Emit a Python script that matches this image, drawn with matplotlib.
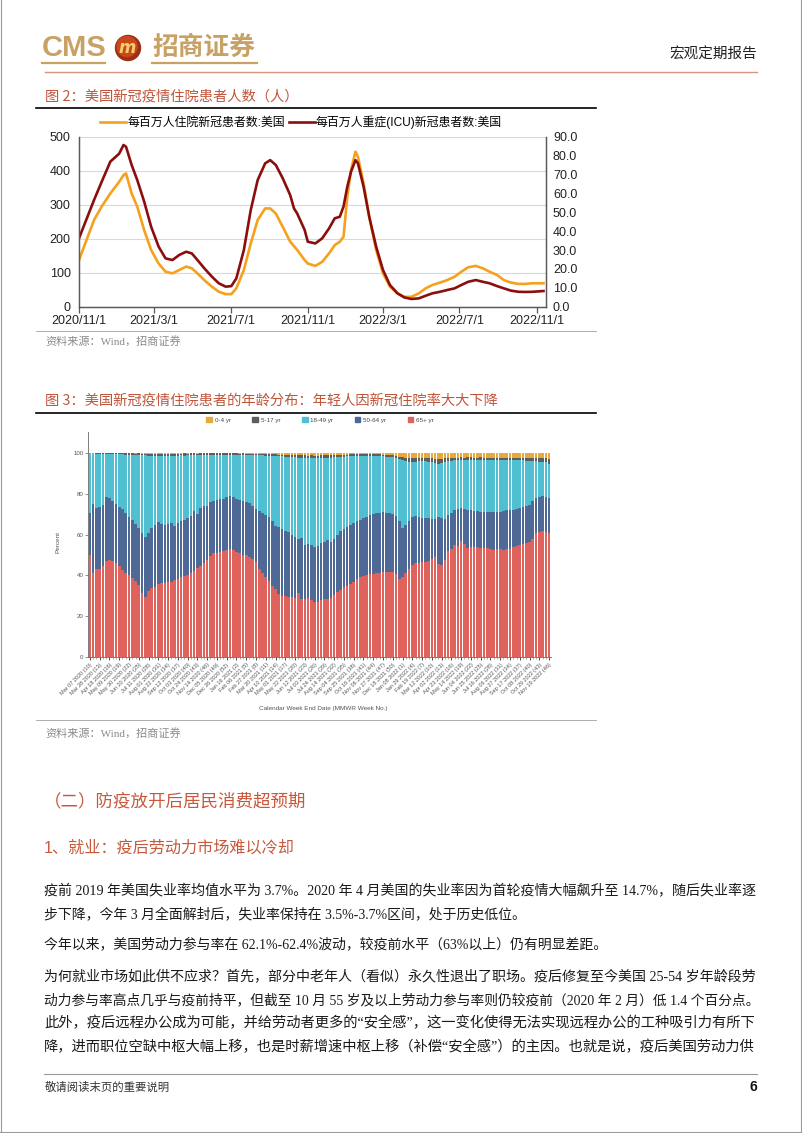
import matplotlib
matplotlib.use("Agg")
import matplotlib.pyplot as plt
from matplotlib.patches import Circle, Patch
import numpy as np
import pandas as pd

W, H = 802, 1133
CJK = "Noto Sans CJK SC"
SERIF_MIX = ["Liberation Serif", CJK]
SANS_MIX = ["Liberation Sans", CJK]
plt.rcParams["font.family"] = [CJK, "DejaVu Sans"]

# ---------------- Figure 2 data: hospitalised COVID patients per million (US) ----------------
hosp_dates = ["2020-11-01", "2020-11-25", "2020-12-07", "2020-12-21", "2021-01-04", "2021-01-11",
              "2021-01-15", "2021-01-24", "2021-02-02", "2021-02-13", "2021-02-24", "2021-03-08",
              "2021-03-19", "2021-03-30", "2021-04-10", "2021-04-21", "2021-04-30", "2021-05-09",
              "2021-05-20", "2021-06-01", "2021-06-12", "2021-06-23", "2021-07-02", "2021-07-10",
              "2021-07-22", "2021-08-02", "2021-08-13", "2021-08-25", "2021-09-02", "2021-09-11",
              "2021-09-22", "2021-10-04", "2021-10-10", "2021-10-15", "2021-10-27", "2021-11-01",
              "2021-11-13", "2021-11-24", "2021-12-05", "2021-12-14", "2021-12-22", "2021-12-28",
              "2022-01-03", "2022-01-09", "2022-01-16", "2022-01-20", "2022-01-29", "2022-02-07",
              "2022-02-18", "2022-03-01", "2022-03-12", "2022-03-24", "2022-04-04", "2022-04-15",
              "2022-04-27", "2022-05-08", "2022-05-19", "2022-05-31", "2022-06-11", "2022-06-23",
              "2022-07-04", "2022-07-15", "2022-07-27", "2022-08-07", "2022-08-18", "2022-08-30",
              "2022-09-10", "2022-09-21", "2022-10-03", "2022-10-14", "2022-10-26", "2022-11-12"]
hosp_per_million = [137, 255, 294, 333, 367, 387, 392, 333, 294, 225,
                    167, 127, 103, 98, 108, 118, 113, 98, 78, 59,
                    44, 37, 37, 54, 108, 186, 255, 289, 289, 274,
                    235, 191, 178, 167, 137, 127, 120, 132, 157, 181,
                    191, 206, 323, 402, 456, 441, 363, 265, 167, 98,
                    59, 39, 29, 29, 39, 54, 64, 71, 78, 88,
                    103, 116, 120, 113, 103, 93, 78, 71, 67, 67,
                    69, 69]
icu_per_million = [36.2, 56.5, 66, 76.8, 81, 85.6, 84.7, 75, 67, 55.6,
                   42.4, 31.8, 25.6, 24.7, 27.4, 29.1, 28.2, 24.7, 20.3, 15.9,
                   12.4, 10.6, 10.9, 15, 30, 51.2, 67, 75.9, 77.6, 75,
                   68, 59, 52, 49.4, 40.6, 34.4, 33.5, 36.2, 41.5, 46.8,
                   47.6, 53, 63.5, 71.5, 77.6, 75.9, 63.5, 47.6, 31.8, 19.4,
                   11.5, 7.1, 4.9, 4.1, 4.4, 5.8, 7.1, 7.9, 8.8, 9.7,
                   11.5, 13.2, 14.1, 13.2, 12.4, 10.9, 9.7, 8.5, 7.9, 7.8,
                   7.9, 8.3]
fig2_xtick_labels = ["2020/11/1", "2021/3/1", "2021/7/1", "2021/11/1", "2022/3/1", "2022/7/1", "2022/11/1"]
fig2_series_names = ["每百万人住院新冠患者数:美国", "每百万人重症(ICU)新冠患者数:美国"]

# ---------------- Figure 3 data: age distribution of hospitalised patients (%), weekly ----------------
# cumulative shares: patients aged >=65, >=50, >=18, >=5 (remainder is 0-4 yr)
share_65plus = [50, 41, 43, 43, 44.5, 47, 47.5, 47, 46, 44.5,
                42.5, 41, 40, 38.7, 37.3, 35.5, 31.5, 29.6, 32.5, 34,
                34.5, 35.8, 36.5, 36.4, 36.8, 37, 37.8, 38.4, 39, 39.8,
                40.3, 41, 42.3, 43.7, 44.5, 45.9, 47.5, 49.5, 50.8, 51.2,
                51.5, 51.8, 52.5, 53, 52.5, 51.5, 50.8, 50.2, 50, 49.2,
                48, 46.5, 43, 41, 39.4, 37.5, 35, 33.5, 31, 30,
                29.8, 29.3, 29.5, 29, 31.3, 28.5, 28.3, 28.8, 28, 26.8,
                27, 28.2, 28.5, 28.5, 29, 30.5, 32, 33, 34.2, 35,
                36, 37, 38.3, 39.2, 39.8, 40.3, 40.5, 40.8, 41, 41.2,
                41.5, 41.7, 41.6, 41.8, 40.5, 38.2, 39, 41, 43, 45,
                46, 46.3, 46.6, 46.7, 47.2, 47.8, 49, 45.5, 45.3, 47.5,
                52, 53, 55, 54.3, 56.8, 55.5, 53.6, 54, 53.8, 53.7,
                53.6, 53.4, 53.2, 52.8, 52.6, 52.8, 52.7, 52.5, 53, 53,
                53.8, 54.6, 55, 55.3, 56, 56.3, 58, 60.6, 61, 61.7,
                61.2, 60.5]
share_50plus = [70.5, 75, 73, 73.3, 74.4, 78.1, 77.9, 76.3, 75, 73.6,
                72.4, 70.6, 68.7, 67, 65.1, 63.2, 60.8, 58.8, 60.7, 63,
                64.8, 66.1, 65.1, 64.5, 65, 65.4, 64.1, 65.7, 66.7, 67,
                68, 68.9, 71.4, 70, 73, 74, 73.8, 75.8, 76.6, 76.9,
                77.2, 77.5, 78.2, 78.7, 78.5, 77.6, 77, 76.5, 76, 75.2,
                73.8, 72.3, 71.6, 70.6, 69.5, 68.5, 66.5, 64.4, 63.6, 62.8,
                61.8, 61, 59.8, 58.6, 57.8, 58.3, 55, 55.4, 54.9, 54,
                54.6, 55.7, 56.5, 57.5, 56.5, 58, 60, 61.5, 62.5, 63.8,
                64.7, 65.8, 66.6, 67.3, 68, 68.7, 69.3, 69.8, 70.3, 70.7,
                70.9, 70.5, 70.6, 70.2, 69, 66.5, 63, 64.8, 66.8, 68.4,
                68.9, 68.6, 68.3, 68, 68.2, 67.5, 67.5, 68.5, 68, 67.6,
                69.5, 70.6, 72, 72.3, 73.2, 72.6, 72.2, 71.8, 71.5, 71.3,
                71.2, 71.1, 70.9, 70.8, 70.9, 71, 71.2, 71.3, 71.8, 72,
                72.2, 72.6, 73, 73.5, 74, 74.6, 76.5, 77.8, 78.3, 78.6,
                78.3, 78]
share_18plus = [99.6, 99.6, 99.5, 99.5, 99.4, 99.5, 99.4, 99.3, 99.3, 99.2,
                99.2, 99.1, 99.0, 99.0, 98.9, 98.8, 98.8, 98.7, 98.6, 98.6,
                98.5, 98.5, 98.4, 98.5, 98.4, 98.6, 98.5, 98.6, 98.7, 98.6,
                98.8, 98.7, 98.8, 98.9, 98.8, 98.9, 99.0, 99.0, 99.1, 99.0,
                99.1, 99.0, 99.1, 99.0, 98.9, 99.0, 98.9, 98.9, 98.8, 98.9,
                98.8, 98.7, 98.8, 98.7, 98.6, 98.6, 98.5, 98.4, 98.3, 98.2,
                98.0, 97.9, 97.8, 97.7, 97.6, 97.5, 97.4, 97.3, 97.4, 97.3,
                97.2, 97.3, 97.4, 97.5, 97.6, 97.8, 97.9, 98.0, 98.1, 98.2,
                98.3, 98.3, 98.4, 98.4, 98.4, 98.5, 98.4, 98.4, 98.3, 98.3,
                98.2, 98.1, 98.0, 97.8, 97.5, 97.0, 96.3, 95.8, 95.5, 95.4,
                95.6, 95.8, 96.0, 95.8, 95.5, 95.2, 94.8, 94.6, 95.0, 95.4,
                95.7, 96.0, 96.2, 96.3, 96.4, 96.5, 96.4, 96.5, 96.6, 96.5,
                96.4, 96.5, 96.6, 96.5, 96.4, 96.3, 96.4, 96.5, 96.3, 96.2,
                96.3, 96.4, 96.3, 96.2, 96.1, 96.0, 95.9, 95.8, 95.6, 95.5,
                95.2, 94.6]
share_5plus = [99.8, 99.8, 99.8, 99.7, 99.8, 99.7, 99.7, 99.7, 99.6, 99.7,
               99.6, 99.6, 99.6, 99.6, 99.5, 99.6, 99.5, 99.5, 99.5, 99.5,
               99.4, 99.5, 99.4, 99.4, 99.5, 99.4, 99.5, 99.5, 99.5, 99.6,
               99.5, 99.6, 99.6, 99.5, 99.6, 99.6, 99.6, 99.6, 99.7, 99.6,
               99.7, 99.6, 99.7, 99.6, 99.6, 99.6, 99.5, 99.6, 99.5, 99.5,
               99.5, 99.4, 99.4, 99.4, 99.3, 99.3, 99.2, 99.2, 99.1, 99.1,
               99.0, 98.9, 98.9, 98.8, 98.8, 98.7, 98.7, 98.6, 98.7, 98.6,
               98.6, 98.7, 98.7, 98.8, 98.8, 98.9, 99.0, 99.0, 99.1, 99.1,
               99.2, 99.2, 99.3, 99.3, 99.3, 99.3, 99.3, 99.2, 99.2, 99.2,
               99.1, 99.0, 98.9, 98.7, 98.4, 98.1, 97.8, 97.5, 97.3, 97.2,
               97.3, 97.4, 97.5, 97.4, 97.3, 97.2, 97.0, 96.9, 97.1, 97.3,
               97.4, 97.5, 97.6, 97.6, 97.7, 97.6, 97.7, 97.7, 97.6, 97.6,
               97.7, 97.6, 97.5, 97.6, 97.6, 97.5, 97.5, 97.6, 97.5, 97.5,
               97.4, 97.5, 97.4, 97.4, 97.3, 97.3, 97.3, 97.2, 97.2, 97.3,
               97.2, 97.1]
age_groups = ["0-4 yr", "5-17 yr", "18-49 yr", "50-64 yr", "65+ yr"]
week_labels = ["Mar 07 2020 (10)", "Mar 28 2020 (13)", "Apr 18 2020 (16)", "May 09 2020 (19)",
               "May 30 2020 (22)", "Jun 20 2020 (25)", "Jul 11 2020 (28)", "Aug 01 2020 (31)",
               "Aug 22 2020 (34)", "Sep 12 2020 (37)", "Oct 03 2020 (40)", "Oct 24 2020 (43)",
               "Nov 14 2020 (46)", "Dec 05 2020 (49)", "Dec 26 2020 (52)", "Jan 16 2021 (2)",
               "Feb 06 2021 (5)", "Feb 27 2021 (8)", "Mar 20 2021 (11)", "Apr 10 2021 (14)",
               "May 01 2021 (17)", "May 22 2021 (20)", "Jun 12 2021 (23)", "Jul 03 2021 (26)",
               "Jul 24 2021 (29)", "Aug 14 2021 (32)", "Sep 04 2021 (35)", "Sep 25 2021 (38)",
               "Oct 16 2021 (41)", "Nov 06 2021 (44)", "Nov 27 2021 (47)", "Dec 18 2021 (50)",
               "Jan 08 2022 (1)", "Jan 29 2022 (4)", "Feb 19 2022 (7)", "Mar 12 2022 (10)",
               "Apr 02 2022 (13)", "Apr 23 2022 (16)", "May 14 2022 (19)", "Jun 04 2022 (22)",
               "Jun 25 2022 (25)", "Jul 16 2022 (28)", "Aug 06 2022 (31)", "Aug 27 2022 (34)",
               "Sep 17 2022 (37)", "Oct 08 2022 (40)", "Oct 29 2022 (43)", "Nov 19 2022 (46)"]

# ---------------- page text ----------------
body_lines = [
    ("疫前 2019 年美国失业率均值水平为 3.7%。2020 年 4 月美国的失业率因为首轮疫情大幅飙升至 14.7%，随后失业率逐", 891, True),
    ("步下降，今年 3 月全面解封后，失业率保持在 3.5%-3.7%区间，处于历史低位。", 914, False),
    ("今年以来，美国劳动力参与率在 62.1%-62.4%波动，较疫前水平（63%以上）仍有明显差距。", 944, False),
    ("为何就业市场如此供不应求？首先，部分中老年人（看似）永久性退出了职场。疫后修复至今美国 25-54 岁年龄段劳", 977, True),
    ("动力参与率高点几乎与疫前持平，但截至 10 月 55 岁及以上劳动力参与率则仍较疫前（2020 年 2 月）低 1.4 个百分点。", 1000, True),
    ("此外，疫后远程办公成为可能，并给劳动者更多的“安全感”，这一变化使得无法实现远程办公的工种吸引力有所下", 1023, True),
    ("降，进而职位空缺中枢大幅上移，也是时薪增速中枢上移（补偿“安全感”）的主因。也就是说，疫后美国劳动力供", 1047, True),
]

# ---------------- figure ----------------
fig = plt.figure(figsize=(W / 100, H / 100), dpi=100)
fig.patch.set_facecolor("white")


def box(x0, y0, x1, y1):
    return [x0 / W, 1 - y1 / H, (x1 - x0) / W, (y1 - y0) / H]


page = fig.add_axes([0, 0, 1, 1], zorder=-1)
page.set_xlim(0, W)
page.set_ylim(H, 0)
page.axis("off")

GOLD = "#C9A165"
TITLE_C = "#C0553A"
GRAY_T = "#8A8A8A"

# page border
page.plot([0.6, 0.6], [0, 1131.5], color="#9A9A9A", lw=0.8)
page.plot([801.4, 801.4], [0, 1131.5], color="#9A9A9A", lw=0.8)
page.plot([0, W], [1131.5, 1131.5], color="#9A9A9A", lw=0.8)

# header / logo
page.text(42, 48, "CMS", fontsize=21, color=GOLD, family=["Liberation Sans Narrow", "Liberation Sans"],
          weight="bold", va="center", ha="left")
page.add_patch(Circle((128, 48), 12.5, color="#9E2E14"))
page.add_patch(Circle((127, 46.5), 10, color="#C9481E"))
page.text(127.5, 48, "m", fontsize=12, color="#F3CE6A", weight="bold", style="italic",
          family="DejaVu Sans", ha="center", va="center")
page.text(152, 47, "招商证券", fontsize=18.5, color=GOLD, family=CJK, weight="bold", va="center", ha="left")
page.plot([42, 105], [63, 63], color=GOLD, lw=1.6)
page.plot([152, 257], [63, 63], color=GOLD, lw=1.6)
page.text(757, 55, "宏观定期报告", fontsize=10.5, color="#222222", ha="right", va="center")
page.plot([45, 757], [72, 72], color="#D9957F", lw=1.0)

# figure 2 title block
page.text(45, 97, "图 2：美国新冠疫情住院患者人数（人）", fontsize=10.3, color=TITLE_C, va="center", ha="left")
page.plot([36, 596], [108, 108], color="black", lw=1.2)

# ---------------- chart 1 ----------------
ax1 = fig.add_axes(box(79, 136.7, 546, 306.7))
ax1.set_facecolor("none")
dates = pd.to_datetime(hosp_dates)
l1, = ax1.plot(dates, hosp_per_million, color="#F5A11C", lw=1.9)
ax1b = ax1.twinx()
l2, = ax1b.plot(dates, icu_per_million, color="#8B0E0E", lw=1.9)
ax1.set_ylim(0, 500)
ax1.set_yticks(range(0, 501, 100))
ax1b.set_ylim(0, 90)
ax1b.set_yticks(range(0, 91, 10))
ax1b.set_yticklabels([f"{v:.1f}" for v in range(0, 91, 10)])
ax1.set_xlim(pd.Timestamp("2020-11-01"), pd.Timestamp("2022-11-16"))
ax1.set_xticks(pd.to_datetime(fig2_xtick_labels, format="%Y/%m/%d"))
ax1.set_xticklabels(fig2_xtick_labels)
ax1.grid(axis="y", color="#D9D9D9", lw=0.8)
ax1.set_axisbelow(True)
for a in (ax1, ax1b):
    a.spines["top"].set_visible(False)
    for s in ("left", "right", "bottom"):
        a.spines[s].set_color("#595959")
        a.spines[s].set_linewidth(0.9)
ax1.tick_params(axis="y", length=0, pad=6, labelsize=9, labelcolor="#222")
ax1b.tick_params(axis="y", length=0, pad=5, labelsize=9, labelcolor="#222")
ax1.tick_params(axis="x", length=4, width=0.9, color="#595959", pad=2, labelsize=9, labelcolor="#222")
for lab in ax1.get_xticklabels() + ax1.get_yticklabels() + ax1b.get_yticklabels():
    lab.set_family("Liberation Sans")
fig.legend([l1, l2], fig2_series_names, loc="center", bbox_to_anchor=(301 / W, 1 - 122 / H),
           ncol=2, frameon=False, handlelength=2.2, handletextpad=0.1, columnspacing=0.3,
           prop={"family": SANS_MIX, "size": 8.6})

page.plot([36, 596], [331, 331], color="#A0A0A0", lw=0.6)
page.text(45, 341, "资料来源：Wind，招商证券", fontsize=8, color=GRAY_T, family=SERIF_MIX, va="center")

# figure 3 title block
page.text(45, 401, "图 3：美国新冠疫情住院患者的年龄分布：年轻人因新冠住院率大大下降", fontsize=10.3,
          color=TITLE_C, va="center", ha="left")
page.plot([36, 596], [413, 413], color="black", lw=1.2)

# ---------------- chart 2 ----------------
C0, C5, C18, C50, C65 = "#E6A93A", "#5E5E5E", "#4FBFD1", "#4F6996", "#E0625C"
s65 = np.array(share_65plus)
s50 = np.array(share_50plus)
s18 = np.array(share_18plus)
s5 = np.array(share_5plus)
x = np.arange(len(s65))
ax2 = fig.add_axes(box(88.3, 432.2, 550.7, 657.3))
ax2.set_facecolor("none")
bw = 0.8
ax2.bar(x, s65, width=bw, color=C65, linewidth=0)
ax2.bar(x, s50 - s65, bottom=s65, width=bw, color=C50, linewidth=0)
ax2.bar(x, s18 - s50, bottom=s50, width=bw, color=C18, linewidth=0)
ax2.bar(x, s5 - s18, bottom=s18, width=bw, color=C5, linewidth=0)
ax2.bar(x, 100 - s5, bottom=s5, width=bw, color=C0, linewidth=0)
ax2.set_xlim(-0.5, len(x) - 0.5)
ax2.set_ylim(0, 110)
ax2.set_yticks(range(0, 101, 20))
ax2.set_xticks(x[::3])
ax2.set_xticklabels(week_labels)
ax2.set_xticks(x, minor=True)
for s in ("top", "right"):
    ax2.spines[s].set_visible(False)
for s in ("left", "bottom"):
    ax2.spines[s].set_color("#666666")
    ax2.spines[s].set_linewidth(0.6)
ax2.tick_params(axis="y", length=2, width=0.5, color="#666", pad=1.5, labelsize=4.4, labelcolor="#555")
ax2.tick_params(axis="x", which="major", length=2.5, width=0.6, color="#333", pad=1, labelsize=4.0,
                labelcolor="#555")
ax2.tick_params(axis="x", which="minor", length=1.5, width=0.4, color="#777")
for lab in ax2.get_xticklabels():
    lab.set_rotation(45)
    lab.set_ha("right")
    lab.set_rotation_mode("anchor")
    lab.set_family("Liberation Sans")
for lab in ax2.get_yticklabels():
    lab.set_family("Liberation Sans")
ax2.set_ylabel("Percent", fontsize=4.6, color="#555", family="Liberation Sans")
ax2.yaxis.set_label_coords((60 - 88.3) / (550.7 - 88.3), (657.3 - 541.7) / (657.3 - 432.2))
ax2.set_xlabel("Calendar Week End Date (MMWR Week No.)", fontsize=4.6, color="#555", family="Liberation Sans")
ax2.xaxis.set_label_coords((323 - 88.3) / (550.7 - 88.3), (657.3 - 706) / (657.3 - 432.2))
handles = [Patch(color=c) for c in (C0, C5, C18, C50, C65)]
fig.legend(handles, age_groups, loc="center", bbox_to_anchor=(320 / W, 1 - 420 / H), ncol=5,
           frameon=False, handlelength=0.9, handleheight=0.9, handletextpad=0.4, columnspacing=3.5,
           prop={"family": "Liberation Sans", "size": 4.5}, labelcolor="#444")

page.plot([36, 596], [720, 720], color="#A0A0A0", lw=0.6)
page.text(45, 733, "资料来源：Wind，招商证券", fontsize=8, color=GRAY_T, family=SERIF_MIX, va="center")

# ---------------- body ----------------
page.text(44, 801, "（二）防疫放开后居民消费超预期", fontsize=12.6, color="#C8583B",
          va="center", ha="left")
page.text(44, 848, "1、就业：疫后劳动力市场难以冷却", fontsize=11.6, color="#C8583B",
          va="center", ha="left", family=SANS_MIX)

renderer = fig.canvas.get_renderer()
for text, y, justify in body_lines:
    t = page.text(44, y, text, fontsize=10, color="#1A1A1A", family=SERIF_MIX, va="center", ha="left")
    if justify:
        w = t.get_window_extent(renderer).width
        t.set_fontsize(10 * (757 - 44) / w)

# footer
page.plot([44, 757], [1074, 1074], color="#9A9A9A", lw=0.8)
page.text(45, 1087, "敬请阅读末页的重要说明", fontsize=8.2, color="#333", va="center", ha="left")
page.text(757, 1087, "6", fontsize=10, color="#111", weight="bold", va="center", ha="right",
          family="Liberation Sans")

fig.savefig("out.png", dpi=100, facecolor="white")
